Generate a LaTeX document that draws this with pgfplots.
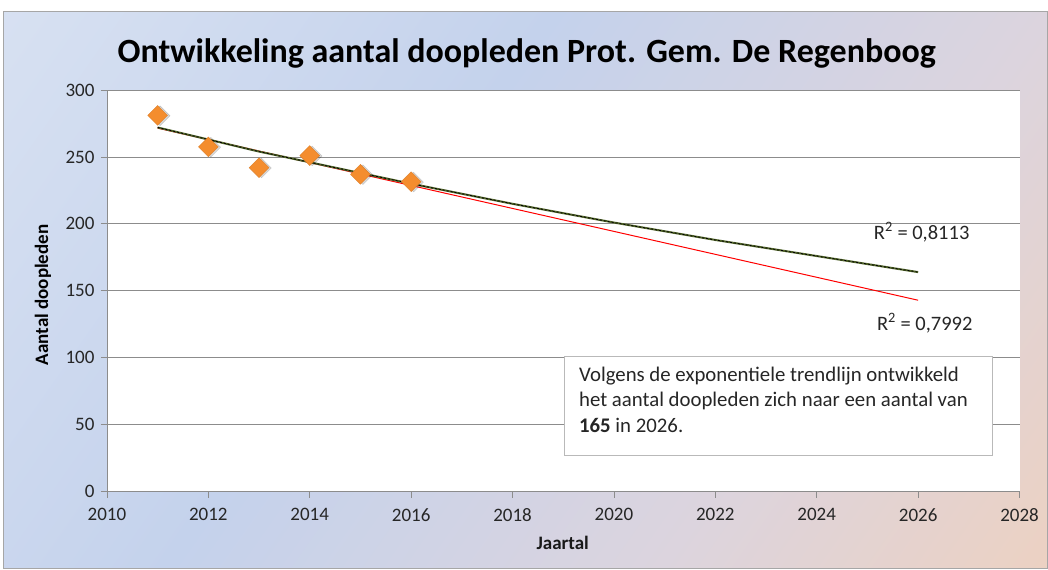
\documentclass[border=0pt]{standalone}
\usepackage{pgfplots}
\pgfplotsset{compat=1.18}
\usepackage{fontspec}
\setmainfont{Carlito}
\definecolor{bgA}{HTML}{E2E9F5}
\definecolor{bgB}{HTML}{C4D2EC}
\definecolor{bgC}{HTML}{DCD4DE}
\definecolor{bgD}{HTML}{F9CFAC}
\definecolor{gridc}{HTML}{8C8C8C}
\definecolor{mkorange}{HTML}{F48D2E}
\definecolor{trgreen}{HTML}{4F6228}
\pgfdeclarehorizontalshading{bgshade}{100bp}{color(0bp)=(bgA); color(42bp)=(bgB); color(66bp)=(bgC); color(100bp)=(bgD)}
\begin{document}
\begin{tikzpicture}[x=1pt,y=1pt]
\fill[white] (0,0) rectangle (1048,570);
\shade[shading=bgshade, shading angle=-35] (4,1) rectangle (1048,558);
\draw[gray!70, line width=1pt] (4,1) rectangle (1048,558);
\begin{axis}[
  at={(107pt,78pt)}, anchor=south west,
  scale only axis, width=913pt, height=402pt,
  xmin=2010, xmax=2028, ymin=0, ymax=300,
  xtick={2010,2012,...,2028}, ytick={0,50,...,300},
  axis x line*=bottom, axis y line*=left,
  axis line style={gridc, line width=0.8pt},
  axis background/.style={fill=white},
  ymajorgrids, grid style={gridc, line width=0.8pt},
  tick align=outside, major tick length=6pt,
  tick style={gridc, line width=0.8pt},
  /pgf/number format/assume math mode=true,
  /pgf/number format/1000 sep={},
  yticklabel style={font=\fontsize{19}{19}\selectfont, text=black!85, xshift=-3pt},
  xticklabel style={font=\fontsize{19}{19}\selectfont, text=black!85, yshift=-7pt},
  clip=false,
]
% linear trend line
\addplot[red, line width=1pt] coordinates {(2011,271.5) (2026,143)};
% exponential trend line
\addplot[trgreen, line width=2pt] coordinates {(2011,272) (2012,263) (2013,254) (2014,246) (2016,230) (2018,215) (2020,201) (2022,188) (2024,176) (2026,164)};
\addplot[black, line width=0.8pt, dash pattern=on 2pt off 2pt] coordinates {(2011,272) (2012,263) (2013,254) (2014,246) (2016,230) (2018,215) (2020,201) (2022,188) (2024,176) (2026,164)};
% shadow of markers
\addplot[only marks, mark=square*, mark size=7pt, mark options={rotate=45, fill=black, draw=none, opacity=0.15, xshift=1.5pt, yshift=-2pt}] coordinates {(2011,281) (2012,257.5) (2013,242) (2014,251) (2015,237) (2016,231.5)};
% data
\addplot[only marks, mark=square*, mark size=7pt, mark options={rotate=45, fill=mkorange, draw=mkorange!90!black, line width=0.4pt}] coordinates {(2011,281) (2012,257.5) (2013,242) (2014,251) (2015,237) (2016,231.5)};
% labels
\node[font=\fontsize{20.5}{20}\selectfont, text=black!85] at (axis cs:2026.07,194) {R\textsuperscript{2} = 0,8113};
\node[font=\fontsize{20.5}{20}\selectfont, text=black!85] at (axis cs:2026.13,126) {R\textsuperscript{2} = 0,7992};
\draw[gray!55, line width=0.8pt, fill=white] (axis cs:2019.03,100.7) rectangle (axis cs:2027.47,26.9);
\node[anchor=north west, inner sep=0pt, align=left, font=\fontsize{20.8}{25.5}\selectfont, text=black!85] at (axis cs:2019.31,93.5) {Volgens de exponentiele trendlijn ontwikkeld\\het aantal doopleden zich naar een aantal van\\\textbf{165} in 2026.};
\node[font=\fontsize{34}{34}\selectfont\bfseries] at (axis cs:2018.28,327.5) {Ontwikkeling aantal doopleden Prot. Gem. De Regenboog};
\node[font=\fontsize{19}{19}\selectfont\bfseries, text=black!90] at (axis cs:2018.99,-38.5) {Jaartal};
\node[font=\fontsize{19}{19}\selectfont\bfseries, rotate=90] at (axis cs:2008.74,147) {Aantal doopleden};
\end{axis}
\end{tikzpicture}
\end{document}
